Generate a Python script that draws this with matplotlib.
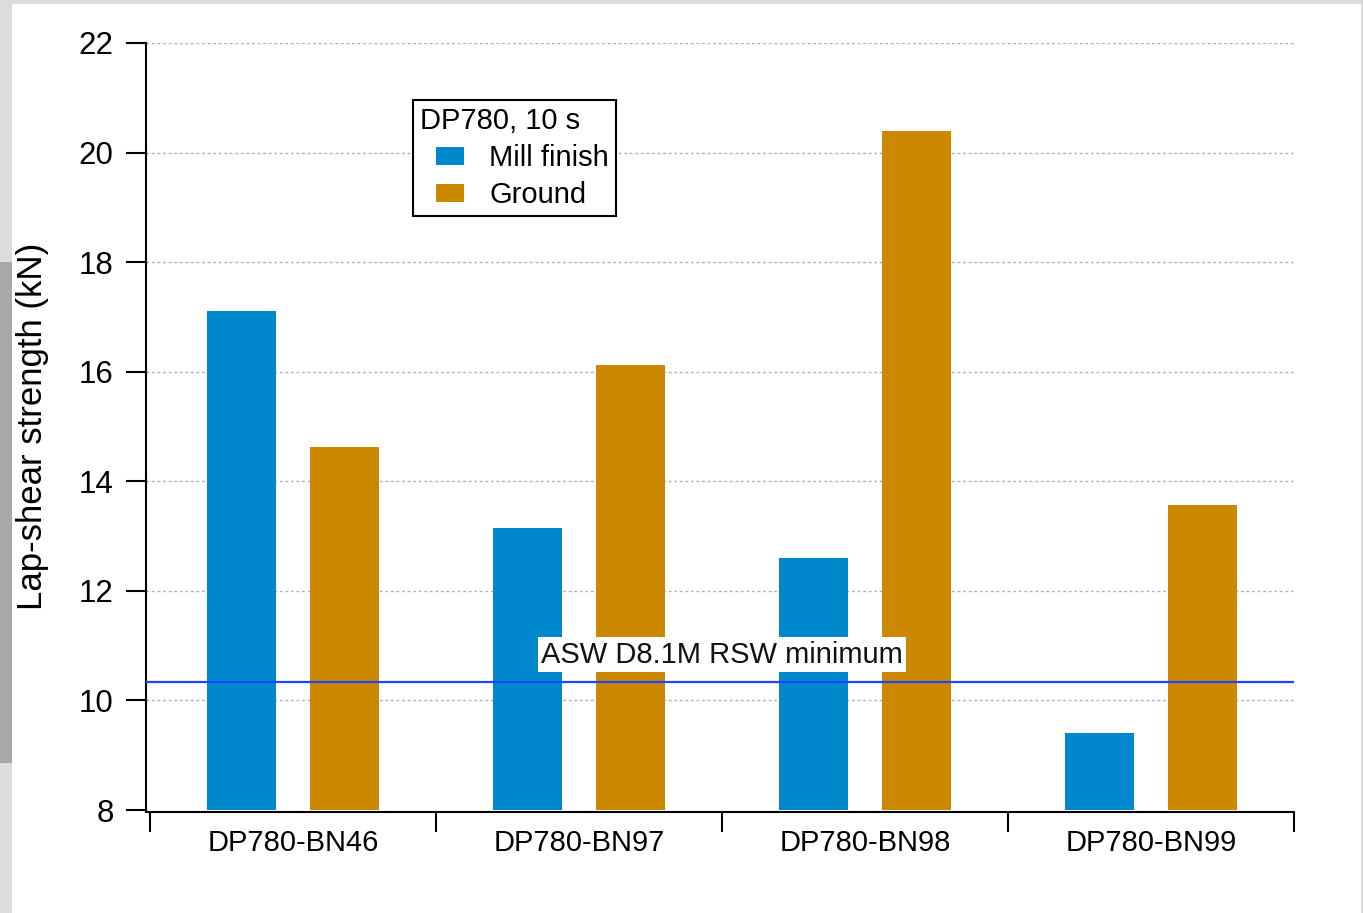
import matplotlib
matplotlib.use("Agg")
import matplotlib.pyplot as plt
from matplotlib.patches import Rectangle
from matplotlib.container import BarContainer
from matplotlib.legend_handler import HandlerPatch
import numpy as np

plt.rcParams["font.family"] = ["Liberation Sans", "DejaVu Sans"]

CATEGORIES = ["DP780-BN46", "DP780-BN97", "DP780-BN98", "DP780-BN99"]
MILL_FINISH = [17.1, 13.15, 12.6, 9.4]
GROUND = [14.63, 16.13, 20.4, 13.57]
RSW_MIN = 10.33
MIN_LABEL = "ASW D8.1M RSW minimum"
LEGEND_TITLE = "DP780, 10 s"
SERIES = ["Mill finish", "Ground"]

C_BLUE = "#0088cc"
C_ORANGE = "#cc8800"
C_LINE = "#1f45ff"

W, H = 1363, 913
fig = plt.figure(figsize=(W / 100, H / 100), dpi=100)
fig.patch.set_facecolor("#dcdcdc")
# white page area (screenshot frame)
fig.patches.append(Rectangle((12 / W, 0), (1361 - 12) / W, 1 - 4 / H,
                             transform=fig.transFigure, facecolor="white",
                             edgecolor="none", zorder=-10))
fig.patches.append(Rectangle((0, 1 - 763 / H), 12 / W, (763 - 262) / H,
                             transform=fig.transFigure, facecolor="#a8a8a8",
                             edgecolor="none", zorder=-10))

ax = fig.add_axes([146 / W, 1 - 810 / H, (1294 - 146) / W, (810 - 43) / H])
ax.set_facecolor("none")

x = np.arange(len(CATEGORIES))
off, bw = 0.18, 0.24
ax.bar(x - off, [v - 8 for v in MILL_FINISH], bw, bottom=8, color=C_BLUE,
       label=SERIES[0], zorder=2)
ax.bar(x + off, [v - 8 for v in GROUND], bw, bottom=8, color=C_ORANGE,
       label=SERIES[1], zorder=2)

ax.axhline(RSW_MIN, color=C_LINE, linewidth=1.6, zorder=3)
ax.text(1.5, RSW_MIN + 0.5, MIN_LABEL, ha="center", va="center", fontsize=21,
        color="#111111", zorder=4,
        bbox=dict(facecolor="white", edgecolor="none", pad=2.5))

ax.set_ylim(8, 22)
ax.set_xlim(-0.5 - 4 / 286, 3.5)
ax.set_yticks(np.arange(8, 23, 2))
ax.tick_params(axis="y", labelsize=22.5, length=14.4, width=1.5, pad=9,
               direction="out")
ax.set_ylabel("Lap-shear strength (kN)", fontsize=25, labelpad=21)

ax.set_xticks(np.arange(-0.5, 4, 1.0))
ax.set_xticklabels([])
ax.set_xticks(x, minor=True)
ax.set_xticklabels(CATEGORIES, minor=True)
ax.tick_params(axis="x", which="major", length=14.4, width=1.5, direction="out")
ax.tick_params(axis="x", which="minor", length=0, labelsize=21, pad=12)

for yv in np.arange(10, 23, 2):
    ax.axhline(yv, color="#b0b0b0", linewidth=1, linestyle=(0, (2, 2)),
               zorder=1)

for s in ["top", "right"]:
    ax.spines[s].set_visible(False)
for s in ["left", "bottom"]:
    ax.spines[s].set_linewidth(1.5)
ax.spines["bottom"].set_position(("outward", 1.5))


def indented_patch(legend, orig_handle, xdescent, ydescent, width, height,
                   fontsize):
    pw = 28 * 0.72
    return Rectangle((width - pw - xdescent, -ydescent + 0.5), pw, height - 1.5)


def first_child(legend_handle, orig_handle):
    legend_handle.update_from(orig_handle.patches[0])
    legend_handle.set_edgecolor("none")


handles, labels = ax.get_legend_handles_labels()
leg = ax.legend(handles, labels, title=LEGEND_TITLE, alignment="left",
                loc="upper left", bbox_to_anchor=(413 / W, 1 - 100 / H),
                bbox_transform=fig.transFigure, borderaxespad=0,
                fontsize=21, title_fontsize=21, frameon=True, fancybox=False,
                framealpha=1, edgecolor="black", borderpad=0.25,
                handlelength=1.5, handleheight=0.7, handletextpad=0.86,
                labelspacing=0.3,
                handler_map={BarContainer: HandlerPatch(patch_func=indented_patch,
                                                        update_func=first_child)})
leg.get_frame().set_linewidth(1.5)

fig.savefig("out.png", dpi=100, facecolor=fig.get_facecolor())
